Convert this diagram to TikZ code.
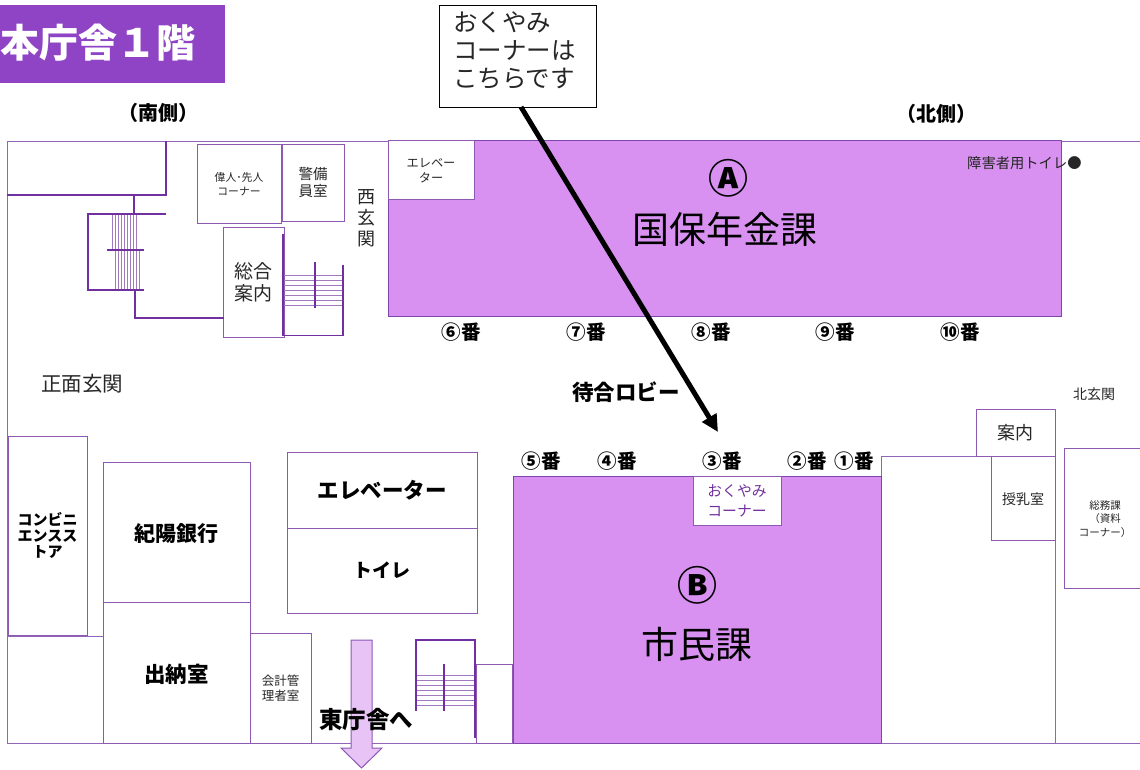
\documentclass[tikz,border=0pt]{standalone}
\usepackage{fontspec}
\setmainfont{Noto Sans CJK JP}
\usetikzlibrary{arrows.meta}
\definecolor{wallpurple}{RGB}{112,48,160}
\definecolor{roompurple}{RGB}{216,145,240}
\definecolor{arrowpurple}{RGB}{232,196,246}
\definecolor{titlepurple}{RGB}{142,68,196}
\newcommand{\fsz}[1]{\fontsize{#1}{#1}\selectfont}
\tikzset{
    wall/.style = {draw = wallpurple, line width = 1.6pt},
    thinwall/.style = {draw = wallpurple!75, line width = 1pt},
    tread/.style = {draw = wallpurple!65, line width = 0.8pt},
    room/.style = {draw = wallpurple!80, line width = 1pt, fill = white},
    counter/.style = {draw = wallpurple!90, line width = 1pt, fill = roompurple},
    txt/.style = {align = center, inner sep = 0pt, text = black!85},
    boldtxt/.style = {align = center, inner sep = 0pt, text = black}
}
\begin{document}
\begin{tikzpicture}[x = 1pt, y = -1pt]
    \useasboundingbox (0, 0) rectangle (1140, 769);

    % draw outer walls
    \draw[thinwall] (1140, 141) -- (7, 141) -- (7, 743);
    \draw[thinwall] (7, 743) -- (1140, 743);

    % draw coloured counters
    \draw[counter] (388, 140) rectangle ++ (673, 176);
    \draw[room] (388, 140) rectangle ++ (86, 59) node[pos=.5, txt, font=\fsz{12.2}, yshift=-1] (elevnorth) {エレベー\\[3pt]ター};
    \draw[counter] (513, 476) rectangle ++ (368, 267);
    \draw[room] (693, 476) rectangle ++ (88, 49) node[pos=.5, txt, font=\fsz{14.8}, text=wallpurple] (okuyami) {おくやみ\\[5pt]コーナー};

    \node[txt, font=\fsz{40}\bfseries, text=black] (markA) at (728, 178) {Ⓐ};
    \node[txt, font=\fsz{37}, text=black] (kokuhotxt) at (725, 229) {国保年金課};
    \node[txt, font=\fsz{40}\bfseries, text=black] (markB) at (697, 585) {Ⓑ};
    \node[txt, font=\fsz{37}, text=black] (shimintxt) at (697, 644) {市民課};

    % draw south wing rooms
    \draw[wall] (7, 195) -- (166, 195) -- (166, 141);
    \draw[room] (197, 144) rectangle ++ (84, 79) node[pos=.5, txt, font=\fsz{10.8}, yshift=-1] (ijin) {偉人･先人\\[3pt]コーナー};
    \draw[room] (282, 144) rectangle ++ (62, 77) node[pos=.5, txt, font=\fsz{14.5}] (keibi) {警備\\[2pt]員室};
    \draw[room] (223, 227) rectangle ++ (61, 110) node[pos=.5, txt, font=\fsz{19}] (sogo) {総合\\[3pt]案内};

    % draw stairs
    \foreach \x in {112, 115, ..., 136} \draw[tread] (\x, 214) -- (\x, 250);
    \foreach \x in {115, 118, ..., 139} \draw[tread] (\x, 250) -- (\x, 290);
    \draw[wall] (134, 195) -- (134, 214);
    \draw[wall] (166, 214) -- (88, 214) -- (88, 290) -- (144, 290);
    \draw[wall] (107, 250) -- (144, 250);
    \draw[wall] (135, 290) -- (135, 318) -- (224, 318);

    \foreach \y in {275, 280, ..., 305} \draw[tread] (284, \y) -- (343, \y);
    \draw[wall] (283, 234) -- (283, 335.5) -- (343, 335.5) -- (343, 265);
    \draw[wall] (315, 262) -- (315, 308);

    \foreach \y in {675, 680, ..., 705} \draw[tread] (417, \y) -- (475, \y);
    \draw[wall] (476, 640) -- (416, 640) -- (416, 711);
    \draw[wall] (475, 640) -- (475, 738);
    \draw[wall] (444, 664) -- (444, 711);

    % draw lower rooms
    \draw[room] (8, 436) rectangle ++ (79, 199) node[pos=.5, boldtxt, font=\fsz{15}\bfseries] (konbini) {コンビニ\\[1pt]エンスス\\[1pt]トア};
    \draw[thinwall] (7, 636) -- (103, 636);
    \draw[room] (103, 462) rectangle ++ (147, 140) node[pos=.5, boldtxt, font=\fsz{21}\bfseries, yshift=-1.5] (kiyo) {紀陽銀行};
    \draw[room] (103, 602) rectangle ++ (147, 141) node[pos=.5, boldtxt, font=\fsz{21.5}\bfseries, yshift=-1.5] (suito) {出納室};
    \draw[room] (250, 633) rectangle ++ (61, 110) node[pos=.5, txt, font=\fsz{12.5}] (kaikei) {会計管\\[2pt]理者室};
    \draw[room] (287, 452) rectangle ++ (190, 76) node[pos=.5, boldtxt, font=\fsz{21.5}\bfseries] (elevsouth) {エレベーター};
    \draw[room] (287, 528) rectangle ++ (190, 85) node[pos=.5, boldtxt, font=\fsz{19}\bfseries] (toilet) {トイレ};
    \draw[room] (476, 664) rectangle ++ (36, 79);

    % draw north wing rooms
    \draw[thinwall] (881, 476) -- (881, 456) -- (1055, 456) -- (1055, 743);
    \draw[room] (976, 409) rectangle ++ (79, 47) node[pos=.5, txt, font=\fsz{18}] (annai) {案内};
    \draw[room] (991, 456) rectangle ++ (64, 84) node[pos=.5, txt, font=\fsz{14}, yshift=-1] (junyu) {授乳室};
    \draw[room] (1064, 448) rectangle ++ (80, 140) node[txt, font=\fsz{10.5}] (somu) at (1105, 519) {総務課\\[3pt]（資料\\[3pt]コーナー）};

    % draw arrow to east building
    \draw[draw=wallpurple!80, line width=1pt, fill=arrowpurple] (351, 640) -- (372, 640) -- (372, 748) -- (382, 748) -- (361.5, 768) -- (341, 748) -- (351, 748) -- cycle;
    \node[boldtxt, font=\fsz{23.5}\bfseries] (east) at (366, 720) {東庁舎へ};

    % draw labels
    \node[boldtxt, font=\fsz{20}\bfseries] (south) at (158, 113) {（南側）};
    \node[boldtxt, font=\fsz{20}\bfseries] (north) at (936, 114) {（北側）};
    \node[txt, font=\fsz{20.5}] (front) at (82, 384) {正面玄関};
    \node[txt, font=\fsz{18}] (west) at (366, 218) {西\\[3pt]玄\\[3pt]関};
    \node[txt, font=\fsz{14}] (northdoor) at (1094, 394) {北玄関};
    \node[txt, font=\fsz{14.3}, anchor=west] (access) at (967, 163) {障害者用トイレ●};
    \node[boldtxt, font=\fsz{21.5}\bfseries] (lobby) at (626, 392) {待合ロビー};

    \foreach \name/\x/\t in {six/461/⑥, seven/586/⑦, eight/711/⑧, nine/835/⑨, ten/960/⑩}
        \node[boldtxt, font=\fsz{19.5}\bfseries] (ban\name) at (\x, 332) {\t 番};
    \foreach \name/\x/\t in {five/541/⑤, four/617/④, three/722/③, two/807/②, one/854/①}
        \node[boldtxt, font=\fsz{19.5}\bfseries] (ban\name) at (\x, 461) {\t 番};

    % draw title and callout
    \draw[fill=titlepurple, draw=none] (0, 5) rectangle ++ (225, 78);
    \node[boldtxt, font=\fsz{39}\bfseries, text=white, anchor=west] (title) at (0, 43) {本庁舎１階};

    \draw[line width=1pt, fill=white] (439, 5) rectangle ++ (157, 102);
    \node[inner sep=0pt, align=left, anchor=north west, font=\fontsize{24.5}{28}\selectfont, text=black!85] (callout) at (453, 11.5) {おくやみ\\コーナーは\\こちらです};
    \coordinate (calloutfoot) at (521, 107);
    \coordinate (arrowtip) at (718, 432);
    \draw[line width=5pt, -{Triangle[length=17pt, width=16pt]}] (calloutfoot) -- (arrowtip);
\end{tikzpicture}
\end{document}
